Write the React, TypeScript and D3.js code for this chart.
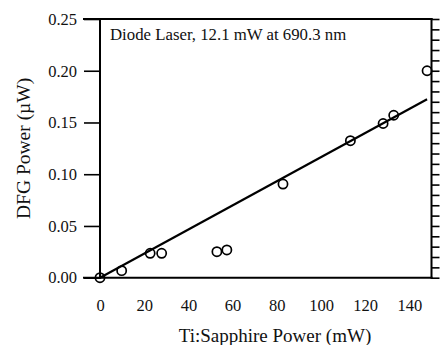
import React, { useRef, useEffect } from "react";
import * as d3 from "d3";

// measured points, Ti:Sapphire power (mW) vs DFG power (uW)
const tiPower = [0, 9.8, 22.7, 27.9, 52.9, 57.4, 82.8, 113.3, 128.1, 132.9, 148.0];
const dfgPower = [0.0, 0.0068, 0.0236, 0.0236, 0.0251, 0.0268, 0.0905, 0.1324, 0.149, 0.157, 0.2];

// linear fit drawn through the data
const fitX = [0, 148];
const fitY = [0.0, 0.1724];

const xTickLabels = [0, 20, 40, 60, 80, 100, 120, 140];
const yTickLabels = [0.0, 0.05, 0.1, 0.15, 0.2, 0.25];

const annotation = "Diode Laser, 12.1 mW at 690.3 nm";
const xTitle = "Ti:Sapphire Power (mW)";
const yTitle = "DFG Power (\u00B5W)";

const App = () => {
    const svgRef = useRef(null);

    const W = 440;
    const H = 345;
    const left = 100, right = 431.5, top = 19, bottom = 277.7;

    useEffect(() => {
        const svg = d3.select(svgRef.current);
        svg.selectAll("*").remove();
        const font = "'Liberation Serif', 'Times New Roman', serif";

        const x = d3.scaleLinear().domain([0, 150]).range([left, right]);
        const y = d3.scaleLinear().domain([0, 0.25]).range([bottom, top]);

        // minor ticks every 0.01 on both y sides
        const yMinor = d3.range(0, 26).map(i => i / 100);
        const xMinor = d3.range(0, 31).map(i => i * 5);

        // left axis
        const gl = svg.append("g").attr("transform", `translate(${left},0)`);
        gl.call(d3.axisLeft(y).tickValues(yMinor).tickSize(9).tickFormat(() => ""));
        gl.call(d3.axisLeft(y).tickValues(yTickLabels).tickSize(16).tickFormat(d3.format(".2f")));
        gl.selectAll(".domain").remove();
        gl.selectAll("line").attr("stroke", "#000").attr("stroke-width", 1.6);
        gl.selectAll("text")
            .attr("x", -23)
            .attr("font-family", font)
            .attr("font-size", 16.5)
            .attr("fill", "#111");

        // right axis, ticks only
        const gr = svg.append("g").attr("transform", `translate(${right},0)`);
        gr.call(d3.axisRight(y).tickValues(yMinor).tickSize(8).tickFormat(() => ""));
        gr.selectAll(".domain").remove();
        gr.selectAll("line").attr("stroke", "#000").attr("stroke-width", 1.6);

        // bottom axis
        const gb = svg.append("g").attr("transform", `translate(0,${bottom})`);
        gb.call(d3.axisBottom(x).tickValues(xMinor).tickSize(7).tickFormat(() => ""));
        gb.selectAll("line")
            .attr("y2", (d) => (d % 20 === 0 ? 13 : d % 10 === 0 ? 11 : 7));
        gb.call(d3.axisBottom(x).tickValues(xTickLabels).tickSize(0).tickPadding(22).tickFormat(d3.format("d")));
        gb.selectAll(".domain").remove();
        gb.selectAll("line").attr("stroke", "#000").attr("stroke-width", 1.6);
        gb.selectAll("text")
            .attr("font-family", font)
            .attr("font-size", 16.5)
            .attr("fill", "#111");

        // frame
        const frame = [
            [x(0) - 16, y(0.25), right, y(0.25)],
            [x(0) - 16, y(0), right, y(0)],
            [left, y(0.25), left, y(0)],
            [right, y(0.25), right, y(0)],
        ];
        svg.append("g").selectAll("line")
            .data(frame)
            .enter()
            .append("line")
            .attr("x1", d => d[0]).attr("y1", d => d[1])
            .attr("x2", d => d[2]).attr("y2", d => d[3])
            .attr("stroke", "#000")
            .attr("stroke-width", 2)
            .attr("stroke-linecap", "square");

        // fit line
        const fit = fitX.map((v, i) => [v, fitY[i]]);
        svg.append("path")
            .datum(fit)
            .attr("d", d3.line().x(d => x(d[0])).y(d => y(d[1])))
            .attr("fill", "none")
            .attr("stroke", "#000")
            .attr("stroke-width", 2.2);

        // points
        svg.append("g").selectAll("circle")
            .data(tiPower.map((v, i) => [v, dfgPower[i]]))
            .enter()
            .append("circle")
            .attr("cx", d => x(d[0]))
            .attr("cy", d => y(d[1]))
            .attr("r", 4.6)
            .attr("fill", "none")
            .attr("stroke", "#000")
            .attr("stroke-width", 1.7);

        // texts
        svg.append("text")
            .attr("x", 110).attr("y", 40)
            .attr("font-family", font)
            .attr("font-size", 16.8)
            .attr("fill", "#111")
            .text(annotation);

        svg.append("text")
            .attr("x", (173 + 377) / 2).attr("y", 342)
            .attr("text-anchor", "middle")
            .attr("font-family", font)
            .attr("font-size", 19)
            .attr("fill", "#111")
            .text(xTitle);

        svg.append("text")
            .attr("transform", `translate(30,${(top + bottom) / 2}) rotate(-90)`)
            .attr("text-anchor", "middle")
            .attr("font-family", font)
            .attr("font-size", 19.5)
            .attr("fill", "#111")
            .text(yTitle);
    }, []);

    return (
        <svg ref={svgRef} width={W} height={H}
            style={{ position: "absolute", left: 0, top: 0, background: "#fff" }}></svg>
    );
};

export default App;
